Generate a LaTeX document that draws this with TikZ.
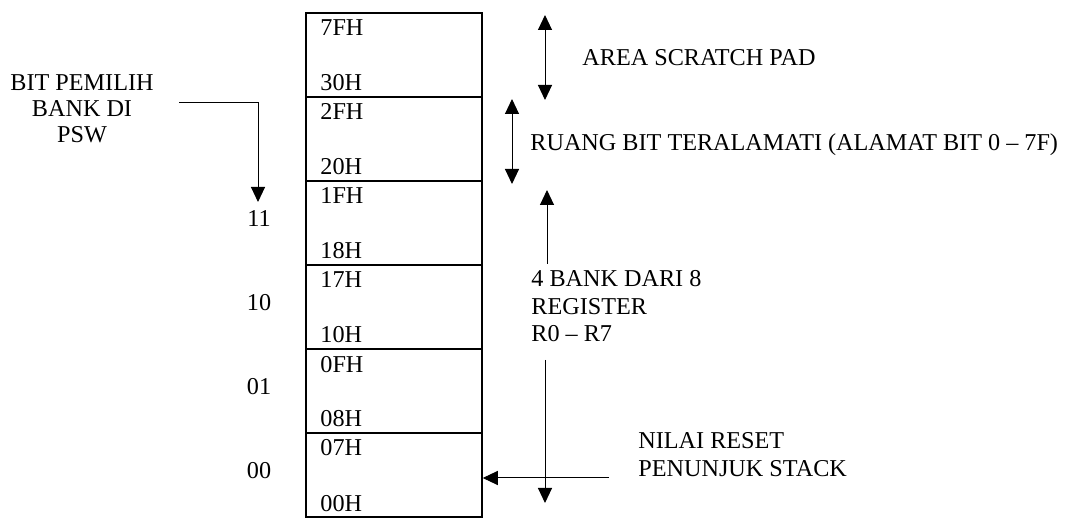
\documentclass[tikz,border=0pt]{standalone}
\usepackage{fontspec}
\setmainfont{Liberation Serif}
\usetikzlibrary{arrows.meta,calc,positioning}

\begin{document}
\begin{tikzpicture}[x=0.5pt, y=-0.5pt,
  every node/.style={font=\fontsize{12.1}{13.8}\selectfont, inner sep=0pt},
  cell/.style={draw, line width=0.75pt, minimum width=88pt, minimum height=42pt},
  addr/.style={anchor=base west},
  bank/.style={anchor=base},
  lab/.style={anchor=base west, align=left},
  ptr/.style={line width=0.5pt, -{Triangle[width=7pt,length=7.5pt]}},
  span/.style={line width=0.5pt, {Triangle[width=7pt,length=7.5pt]}-{Triangle[width=7pt,length=7.5pt]}}
]
  \useasboundingbox (0,0) rectangle (1072,518);

  % memory cells
  \node[cell] (c7F) at (394,55) {};
  \node[cell] (c2F) at (394,139) {};
  \node[cell] (c1F) at (394,223) {};
  \node[cell] (c17) at (394,307) {};
  \node[cell] (c0F) at (394,391) {};
  \node[cell] (c07) at (394,475) {};

  % addresses
  \node[addr] (a7F) at (320,36) {7FH};
  \node[addr] (a30) at (320,91) {30H};
  \node[addr] (a2F) at (320,120) {2FH};
  \node[addr] (a20) at (320,175) {20H};
  \node[addr] (a1F) at (320,204) {1FH};
  \node[addr] (a18) at (320,259) {18H};
  \node[addr] (a17) at (320,288) {17H};
  \node[addr] (a10) at (320,343) {10H};
  \node[addr] (a0F) at (320,372) {0FH};
  \node[addr] (a08) at (320,427) {08H};
  \node[addr] (a07) at (320,456) {07H};
  \node[addr] (a00) at (320,511) {00H};

  % bank select values
  \node[bank] (b11) at (259,227) {11};
  \node[bank] (b10) at (259,311) {10};
  \node[bank] (b01) at (259,395) {01};
  \node[bank] (b00) at (259,479) {00};

  % bank select bits (base = last line)
  \node[anchor=base, align=center, font=\fontsize{12.1}{13}\selectfont] (bitsel) at (82,143) {BIT PEMILIH\\BANK DI\\PSW};
  \coordinate (selA) at (179,103);
  \coordinate (selB) at (258,103);
  \coordinate (selC) at (258,202);
  \draw[ptr] (selA) -- (selB) -- (selC);

  % scratch pad
  \coordinate (spTop) at (545,15);
  \coordinate (spBot) at (545,100);
  \draw[span] (spTop) -- (spBot);
  \node[lab] (scratch) at (582,66) {AREA SCRATCH PAD};

  % bit addressable
  \coordinate (baTop) at (512,99);
  \coordinate (baBot) at (512,184);
  \draw[span] (baTop) -- (baBot);
  \node[lab] (bitarea) at (530,151) {RUANG BIT TERALAMATI (ALAMAT BIT 0 -- 7F)};

  % register banks
  \coordinate (rbUpA) at (547,264);
  \coordinate (rbUpB) at (547,190);
  \draw[ptr] (rbUpA) -- (rbUpB);
  \node[lab] (regbank) at (531,342) {4 BANK DARI 8\\REGISTER\\R0 -- R7};
  \coordinate (rbDnA) at (545,360);
  \coordinate (rbDnB) at (545,503);
  \draw[ptr] (rbDnA) -- (rbDnB);

  % stack pointer reset
  \node[lab] (spreset) at (638,476) {NILAI RESET\\PENUNJUK STACK};
  \coordinate (rsA) at (609,478);
  \draw[ptr] (rsA) -- (rsA -| c07.east);
\end{tikzpicture}
\end{document}
